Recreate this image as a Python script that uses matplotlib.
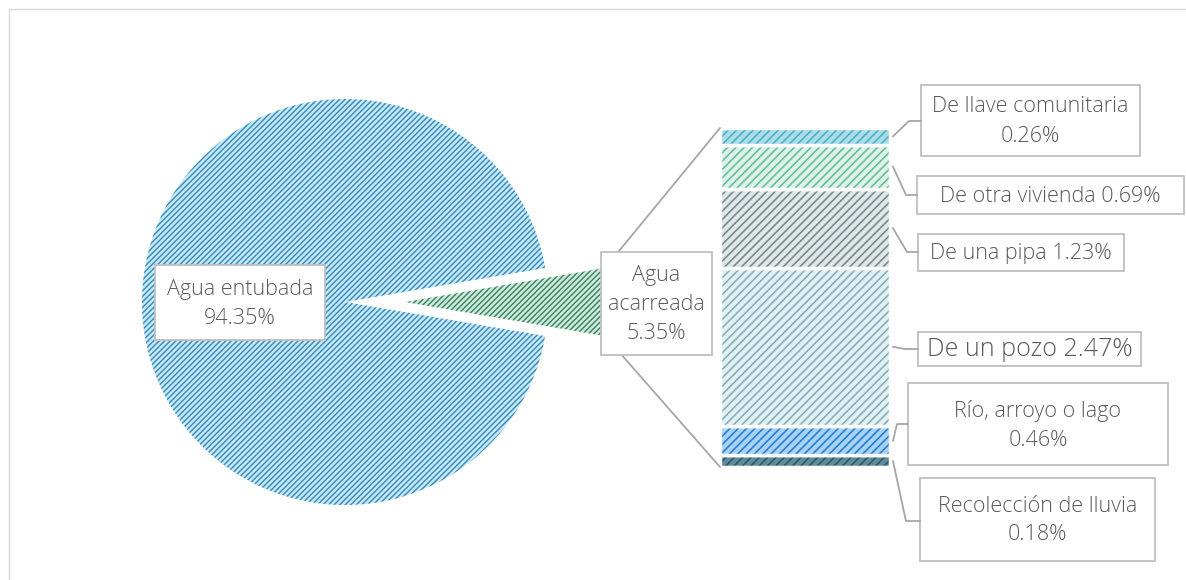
import matplotlib.pyplot as plt
import numpy as np
from matplotlib.patches import Rectangle, ConnectionPatch

# Data
pie_labels = ['Agua acarreada', 'Agua entubada']
pie_values = [5.35, 94.35]

bar_labels = ['Recolección de lluvia', 'Río, arroyo o lago', 'De un pozo',
              'De una pipa', 'De otra vivienda', 'De llave comunitaria']
bar_values = [0.18, 0.46, 2.47, 1.23, 0.69, 0.26]
bar_breaks = ['\n', '\n', ' ', ' ', ' ', '\n']

# Styles
pie_face = ['#d3ebdf', '#cde8f4']
pie_hatch = ['#3e8866', '#3592c0']
bar_face = ['#5f8d9c', '#a6d2f5', '#e3f0f3', '#dfe5e7', '#dcf2e9', '#a9dce4']
bar_hatch = ['#2d5564', '#2179cf', '#7eabb7', '#6f8488', '#5fbc93', '#45aec5']
text_color = '#595959'
box_color = '#bfbfbf'

plt.rcParams['font.family'] = ['Open Sans', 'DejaVu Sans']
plt.rcParams['hatch.linewidth'] = 1.1

W, H = 1186, 580
fig = plt.figure(figsize=(W / 100, H / 100), dpi=100)

# pie axes (pixel layout: center 345,302 radius 203)
cx, cy, R, half = 345, 302, 203, 260
ax_pie = fig.add_axes([(cx - half) / W, (H - cy - half) / H, 2 * half / W, 2 * half / H])
ang = pie_values[0] / sum(pie_values) * 360
wedges, _ = ax_pie.pie(pie_values, startangle=-ang / 2, explode=[60 / R, 0],
                       colors=pie_face, wedgeprops=dict(linewidth=0))
for w, hc in zip(wedges, pie_hatch):
    w.set_edgecolor(hc)
    w.set_linewidth(0)
    w.set_hatch('//////')
lim = half / R
ax_pie.set_xlim(-lim, lim)
ax_pie.set_ylim(-lim, lim)
ax_pie.set_aspect('equal')
ax_pie.axis('off')

# stacked bar axes
bx0, bx1, by0, by1 = 720, 890, 128, 467
ax_bar = fig.add_axes([bx0 / W, (H - by1) / H, (bx1 - bx0) / W, (by1 - by0) / H])
total = sum(bar_values)
bottoms = np.concatenate([[0], np.cumsum(bar_values)[:-1]])
for v, b, fc, hc in zip(bar_values, bottoms, bar_face, bar_hatch):
    ax_bar.bar(0.5, v, bottom=b, width=1, color=fc, edgecolor=hc, linewidth=0, hatch='////')
    ax_bar.bar(0.5, v, bottom=b, width=1, fill=False, edgecolor='white', linewidth=2.5,
               clip_on=False)
ax_bar.set_xlim(0, 1)
ax_bar.set_ylim(0, total)
ax_bar.axis('off')

# connector lines between exploded wedge and bar
wg = wedges[0]
for th, yb in [(wg.theta2, total), (wg.theta1, 0)]:
    p = (wg.center[0] + wg.r * np.cos(np.radians(th)), wg.center[1] + wg.r * np.sin(np.radians(th)))
    con = ConnectionPatch(xyA=p, coordsA=ax_pie.transData, xyB=(0, yb), coordsB=ax_bar.transData,
                          color='#a6a6a6', linewidth=1.3)
    fig.add_artist(con)

# overlay for labels
ax_over = fig.add_axes([0, 0, 1, 1], zorder=5)
ax_over.set_xlim(0, W)
ax_over.set_ylim(H, 0)
ax_over.axis('off')
ax_over.patch.set_visible(False)

ax_over.add_patch(Rectangle((8.5, 8.5), W + 10, H + 10, fill=False, edgecolor='#d9d9d9', linewidth=1))


def label_box(x0, y0, x1, y1, text, size=15.5):
    ax_over.add_patch(Rectangle((x0, y0), x1 - x0, y1 - y0, facecolor='white',
                                edgecolor=box_color, linewidth=1.3))
    ax_over.text((x0 + x1) / 2, (y0 + y1) / 2 + 1, text, ha='center', va='center',
                 fontsize=size, color=text_color, linespacing=1.5, fontweight='light')


label_box(155, 265, 325, 340, f'{pie_labels[1]}\n{pie_values[1]:.2f}%')
label_box(601, 252, 712, 355, 'Agua\nacarreada\n' + f'{pie_values[0]:.2f}%')

boxes = [(920, 478, 1155, 561), (908, 383, 1168, 465), (918, 332, 1141, 366),
         (918, 234, 1124, 271), (917, 176, 1184, 214), (921, 85, 1140, 156)]
elbows = [(906, 521), (897, 424), (905, 349), (907, 252), (906, 195), (909, 121)]
sizes = [15.5, 15.5, 18, 15.5, 15.5, 15.5]

inv = ax_over.transData.inverted()
for lab, v, b, sep, box, elb, fs in zip(bar_labels, bar_values, bottoms, bar_breaks, boxes, elbows, sizes):
    sx, sy = inv.transform(ax_bar.transData.transform((1, b + v / 2)))
    ax_over.plot([sx + 3, elb[0], box[0]], [sy, elb[1], elb[1]], color='#a6a6a6', linewidth=1.3)
    label_box(*box, f'{lab}{sep}{v:.2f}%', size=fs)

fig.savefig('out.png', dpi=100)
